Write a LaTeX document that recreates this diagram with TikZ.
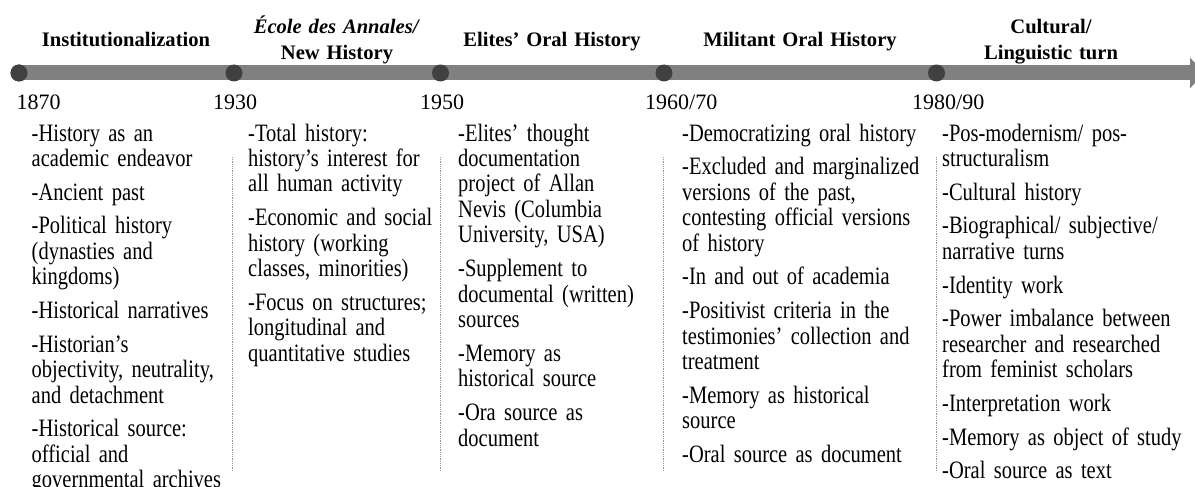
\documentclass[tikz,border=0pt]{standalone}
\usepackage{fontspec}
\setmainfont{Liberation Serif}
\newfontfamily\bodyfont[FakeStretch=0.82]{Liberation Serif}
\definecolor{barc}{RGB}{128,128,128}
\definecolor{dotc}{RGB}{64,64,64}
\definecolor{sepc}{RGB}{150,150,150}
\tikzset{
  bar/.style={draw=barc, line width=15pt},
  tl dot/.style={circle, fill=dotc, minimum size=17pt, inner sep=0pt},
  head/.style={font=\bfseries\fontsize{20.6pt}{26pt}\selectfont, anchor=base, align=center, inner sep=0pt, text width=220pt},
  year/.style={font=\fontsize{22pt}{22pt}\selectfont, anchor=base west, inner sep=0pt},
  body/.style={font=\bodyfont\fontsize{25pt}{25.5pt}\selectfont, anchor=base west, inner sep=0pt, text width=250pt, align=left},
  sep/.style={draw=sepc, line width=0.8pt, densely dotted}
}
\begin{document}
\begin{tikzpicture}[x=1pt,y=-1pt]
\useasboundingbox (0,0) rectangle (1195,487);
\clip (0,0) rectangle (1195,487);
% timeline
\coordinate (barend) at (1191,73);
\coordinate (ht) at (1190,57.5);
\coordinate (hb) at (1190,88.5);
\coordinate (tip) at (1204,73);
\node[tl dot] (d1) at (19,73) {};
\draw[bar] (d1.center) -- (barend);
\fill[barc] (ht) -- (tip) -- (hb) -- cycle;
\node[tl dot] (d1) at (19,73) {};
\node[tl dot] (d2) at (234,73) {};
\node[tl dot] (d3) at (440.5,73) {};
\node[tl dot] (d4) at (664,73) {};
\node[tl dot] (d5) at (936.5,73) {};
% headers
\node[head] (h1) at (126,46.5) {Institutionalization};
\node[head] (h2) at (337,34) {\textit{École des Annales/}\\New History};
\node[head] (h3) at (552,46.5) {Elites’ Oral History};
\node[head] (h4) at (800,46.5) {Militant Oral History};
\node[head] (h5) at (1051,34) {Cultural/\\Linguistic turn};
% years
\node[year] (y1) at (16.5,110) {1870};
\node[year] (y2) at (213,110) {1930};
\node[year] (y3) at (420,110) {1950};
\node[year] (y4) at (645,110) {1960/70};
\node[year] (y5) at (912,110) {1980/90};
% separators
\coordinate (s1t) at (232,157); \coordinate (s1b) at (232,472);
\coordinate (s2t) at (440,157); \coordinate (s2b) at (440,472);
\coordinate (s3t) at (663,157); \coordinate (s3b) at (663,472);
\coordinate (s4t) at (936,157); \coordinate (s4b) at (936,472);
\draw[sep] (s1t) -- (s1b);
\draw[sep] (s2t) -- (s2b);
\draw[sep] (s3t) -- (s3b);
\draw[sep] (s4t) -- (s4b);
% columns
\node[body] (c1) at (31.5,141) {-History as an\\academic endeavor\\[8.2pt]
-Ancient past\\[8.2pt]
-Political history\\(dynasties and\\kingdoms)\\[8.2pt]
-Historical narratives\\[8.2pt]
-Historian’s\\objectivity, neutrality,\\and detachment\\[8.2pt]
-Historical source:\\official and\\governmental archives};
\node[body] (c2) at (248,141) {-Total history:\\history’s interest for\\all human activity\\[8.2pt]
-Economic and social\\history (working\\classes, minorities)\\[8.2pt]
-Focus on structures;\\longitudinal and\\quantitative studies};
\node[body] (c3) at (458,141) {-Elites’ thought\\documentation\\project of Allan\\Nevis (Columbia\\University, USA)\\[8.2pt]
-Supplement to\\documental (written)\\sources\\[8.2pt]
-Memory as\\historical source\\[8.2pt]
-Ora source as\\document};
\node[body] (c4) at (682,141) {-Democratizing oral history\\[8.2pt]
-Excluded and marginalized\\versions of the past,\\contesting official versions\\of history\\[8.2pt]
-In and out of academia\\[8.2pt]
-Positivist criteria in the\\testimonies’ collection and\\treatment\\[8.2pt]
-Memory as historical\\source\\[8.2pt]
-Oral source as document};
\node[body] (c5) at (942,141) {-Pos-modernism/ pos-\\structuralism\\[8.2pt]
-Cultural history\\[8.2pt]
-Biographical/ subjective/\\narrative turns\\[8.2pt]
-Identity work\\[8.2pt]
-Power imbalance between\\researcher and researched\\from feminist scholars\\[8.2pt]
-Interpretation work\\[8.2pt]
-Memory as object of study\\[8.2pt]
-Oral source as text};
\end{tikzpicture}
\end{document}
